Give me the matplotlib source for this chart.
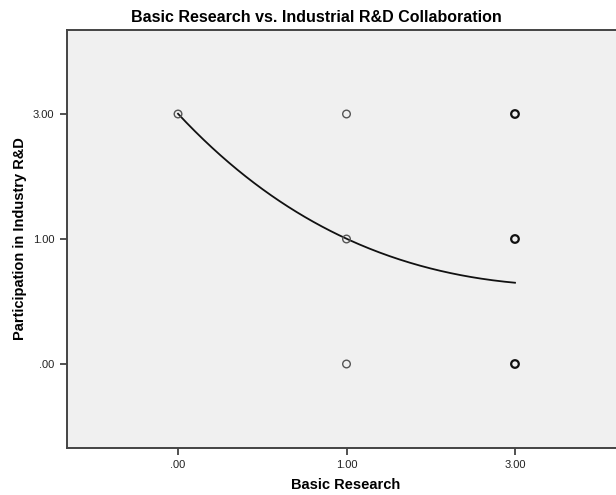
import matplotlib
matplotlib.use("Agg")
import matplotlib.pyplot as plt
import numpy as np
from collections import Counter

plt.rcParams['font.family'] = ['Liberation Sans', 'DejaVu Sans']

# Categories (ordinal axes, equally spaced)
x_categories = [0, 1, 3]
y_categories = [0, 1, 3]
x_tick_labels = [".00", "1.00", "3.00"]
y_tick_labels = [".00", "1.00", "3.00"]

# Observations (Basic Research, Participation in Industry R&D)
obs_basic = [0, 1, 1, 1, 3, 3, 3, 3, 3, 3, 3, 3, 3]
obs_partic = [3, 3, 1, 0, 3, 1, 0, 3, 1, 0, 3, 1, 0]

# Fit line (in category-position units)
fit_xpos = [0.0, 0.487, 0.546, 0.684, 0.882, 1.0, 1.139, 1.317, 1.496, 1.632, 1.832, 2.0]
fit_ypos = [2.0, 1.458, 1.406, 1.232, 1.086, 0.998, 0.906, 0.818, 0.766, 0.738, 0.694, 0.650]

W, H = 616, 495
fig = plt.figure(figsize=(W / 100, H / 100), dpi=100)
fig.patch.set_facecolor('white')
left, right, top, bottom = 67, 626, 30, 448
ax = fig.add_axes([left / W, 1 - bottom / H, (right - left) / W, (bottom - top) / H])
ax.set_facecolor('#F0F0F0')

# smooth the read fit line: least squares on a + d*x + b*exp(-c*x)
fx = np.array(fit_xpos)
fy = np.array(fit_ypos)
wts = np.ones_like(fx)
wts[0] = wts[5] = wts[-1] = 4.0
best = None
for c in np.linspace(0.5, 6.0, 551):
    A = np.column_stack([np.ones_like(fx), fx, np.exp(-c * fx)])
    sol, *_ = np.linalg.lstsq(A * wts[:, None], fy * wts, rcond=None)
    err = np.sum(((A @ sol - fy) * wts) ** 2)
    if best is None or err < best[0]:
        best = (err, c, sol)
_, c_best, sol = best
xs = np.linspace(fx[0], fx[-1], 200)
ys = sol[0] + sol[1] * xs + sol[2] * np.exp(-c_best * xs)
ax.plot(xs, ys, color='#111111', lw=1.3, zorder=2)

counts = Counter(zip(obs_basic, obs_partic))
pts = list(counts.keys())
xpos = [x_categories.index(p[0]) for p in pts]
ypos = [y_categories.index(p[1]) for p in pts]
ecol = ['#111111' if counts[p] > 1 else '#555555' for p in pts]
lws = [1.6 if counts[p] > 1 else 1.0 for p in pts]
ax.scatter(xpos, ypos, s=30, facecolors='none', edgecolors=ecol, linewidths=lws, zorder=3)

ax.set_xlim(-0.659, 2.659)
ax.set_ylim(-0.672, 2.672)
ax.set_xticks(range(len(x_categories)))
ax.set_xticklabels(x_tick_labels)
ax.set_yticks(range(len(y_categories)))
ax.set_yticklabels(y_tick_labels)
ax.tick_params(direction='out', length=5, width=1.2, color='#333333', labelsize=8, labelcolor='#222222', pad=4)
for s in ax.spines.values():
    s.set_color('#444444')
    s.set_linewidth(1.4)

ax.set_xlabel("Basic Research", fontsize=10.5, fontweight='bold', va='center')
ax.set_ylabel("Participation in Industry R&D", fontsize=10.5, fontweight='bold', va='center')
ax.xaxis.set_label_coords((346 - left) / (right - left), -(485 - bottom) / (bottom - top))
ax.yaxis.set_label_coords(-(left - 20) / (right - left), (bottom - 239) / (bottom - top))
fig.suptitle("Basic Research vs. Industrial R&D Collaboration", fontsize=11.5, fontweight='bold',
             x=316 / W, y=1 - 17 / H, va='center')

fig.savefig("out.png", dpi=100)
